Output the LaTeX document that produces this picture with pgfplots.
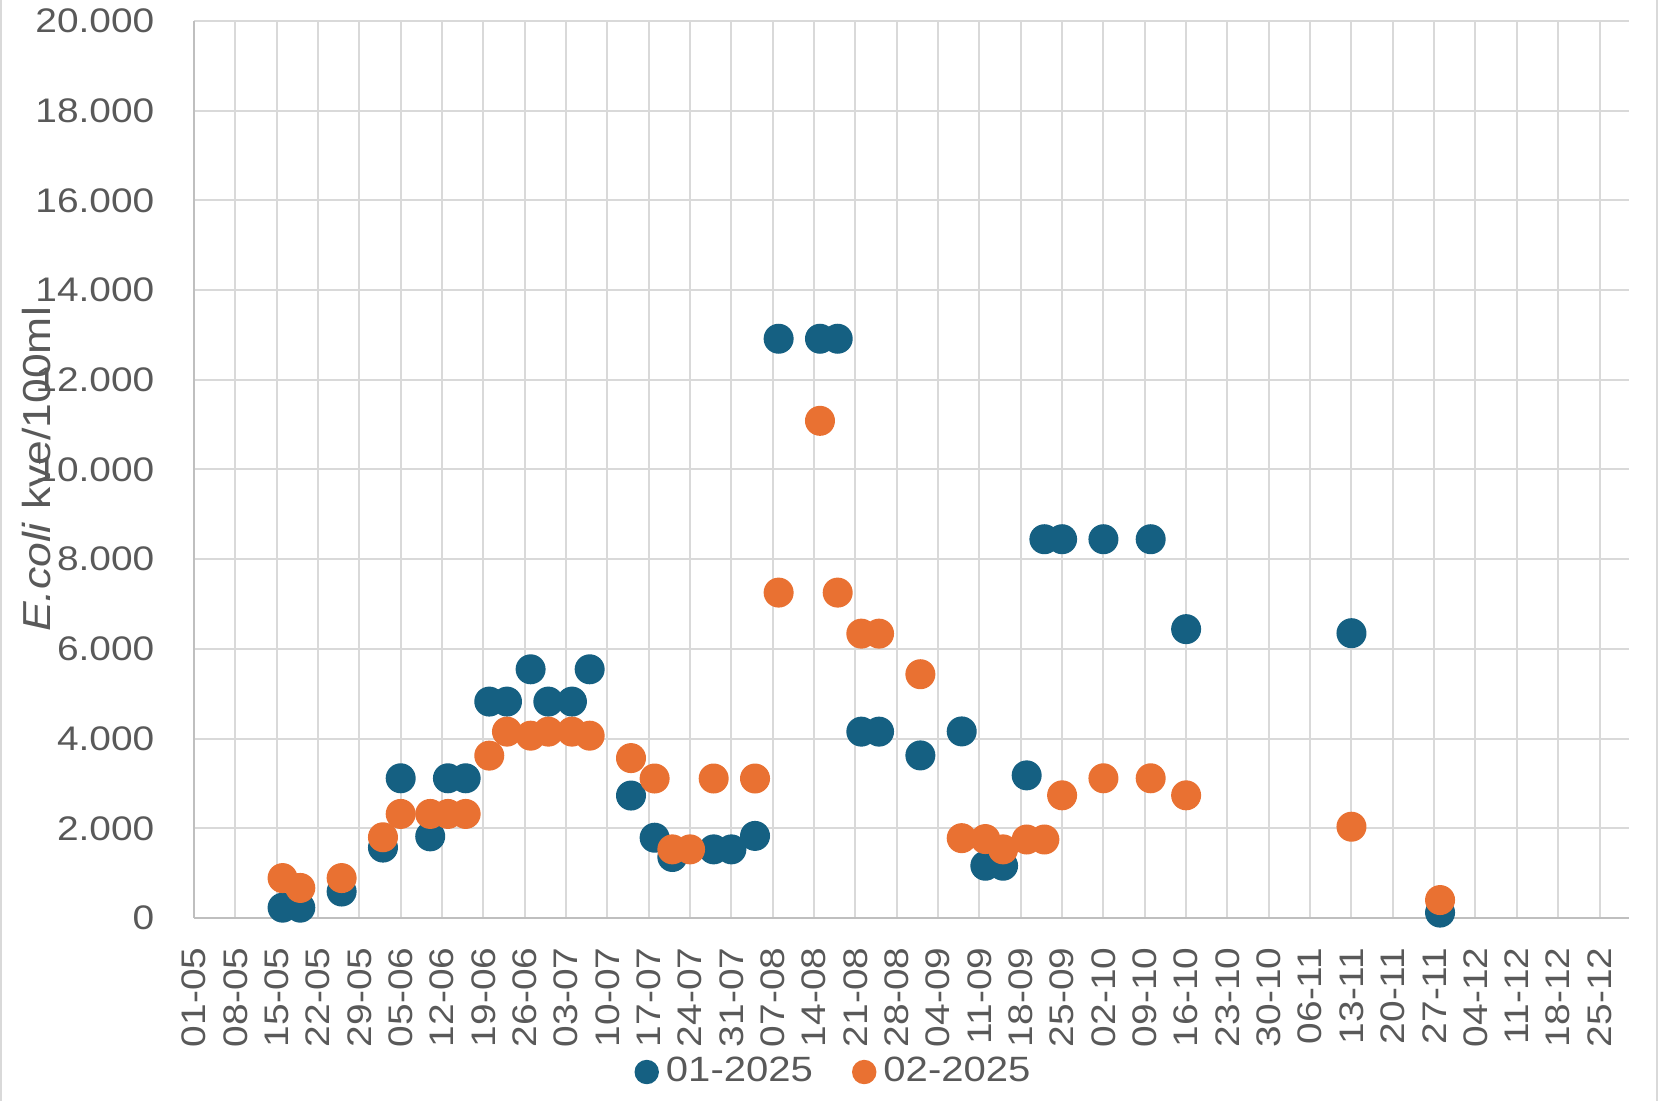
\documentclass[border=0pt]{standalone}
\usepackage{fontspec}
\setmainfont{Liberation Sans}[FakeStretch=1.14]
\usepackage{pgfplots}
\pgfplotsset{compat=1.18}
\definecolor{c1}{HTML}{156082}
\definecolor{c2}{HTML}{E97132}
\definecolor{txt}{HTML}{595959}
\definecolor{gridc}{HTML}{D9D9D9}
\definecolor{axc}{HTML}{BFBFBF}
\begin{document}
\begin{tikzpicture}
\useasboundingbox (0,0) rectangle (165.8mm,110.1mm);
\fill[gridc] (0,0) rectangle (0.25mm,110.1mm);
\fill[gridc] (165.55mm,0) rectangle (165.8mm,110.1mm);
\begin{axis}[
  at={(19.4mm,18.3mm)}, anchor=south west,
  scale only axis, width=143.5mm, height=89.7mm,
  xmin=0, xmax=243, ymin=0, ymax=20000,
  clip=false,
  axis x line=bottom, axis y line=left,
  axis line style={axc, line width=0.25mm, -},
  xtick={0,7,...,238},
  xticklabels={01-05,08-05,15-05,22-05,29-05,05-06,12-06,19-06,26-06,03-07,10-07,17-07,24-07,31-07,07-08,14-08,21-08,28-08,04-09,11-09,18-09,25-09,02-10,09-10,16-10,23-10,30-10,06-11,13-11,20-11,27-11,04-12,11-12,18-12,25-12},
  ytick={0,2000,...,20000},
  major tick length=0pt,
  grid=major,
  major grid style={gridc, line width=0.2mm},
  scaled y ticks=false,
  /pgf/number format/assume math mode=true,
  yticklabel style={/pgf/number format/1000 sep={.}},
  tick label style={font=\fontsize{9.7}{11}\selectfont, text=txt, inner sep=0pt},
  xticklabel style={rotate=90, anchor=east},
  yticklabel style={anchor=east},
  xticklabel shift=2.9mm,
  yticklabel shift=3.9mm,
  ylabel={\textit{E.coli} kve/100ml},
  ylabel style={at={(axis description cs:-0.110,0.5)}, anchor=center, font=\fontsize{11.1}{13}\selectfont, text=txt, inner sep=0pt},
  legend style={at={(axis description cs:0.4474,-0.1717)}, anchor=center, draw=none, fill=none,
    font=\fontsize{10}{12}\selectfont, text=txt,
    /tikz/every even column/.append style={column sep=3.2mm}},
  legend columns=2,
]
\addplot[only marks, mark=*, color=c1, mark size=1.43mm, mark options={draw=none, fill=c1},
  legend image code/.code={\fill[c1] (0,0) circle (1.15mm);}]
  table[row sep=\\]{
  x y\\
  15 230\\ 18 230\\ 25 590\\ 32 1570\\ 35 3115\\ 40 1820\\ 43 3115\\ 46 3115\\
  50 4825\\ 53 4825\\ 57 5545\\ 60 4825\\ 64 4825\\ 67 5545\\ 74 2730\\ 78 1790\\
  81 1360\\ 88 1530\\ 91 1530\\ 95 1830\\ 99 12915\\ 106 12915\\ 109 12915\\
  113 4155\\ 116 4155\\ 123 3625\\ 130 4160\\ 134 1165\\ 137 1165\\ 141 3180\\
  144 8445\\ 147 8445\\ 154 8445\\ 162 8445\\ 168 6440\\ 196 6350\\ 211 120\\
  };
\addlegendentry{01-2025}
\addplot[only marks, mark=*, color=c2, mark size=1.43mm, mark options={draw=none, fill=c2},
  legend image code/.code={\fill[c2] (0,0) circle (1.15mm);}]
  table[row sep=\\]{
  x y\\
  15 890\\ 18 670\\ 25 890\\ 32 1800\\ 35 2320\\ 40 2320\\ 43 2320\\ 46 2320\\
  50 3620\\ 53 4155\\ 57 4065\\ 60 4155\\ 64 4155\\ 67 4065\\ 74 3565\\ 78 3110\\
  81 1530\\ 84 1530\\ 88 3110\\ 95 3110\\ 99 7255\\ 106 11085\\ 109 7255\\
  113 6340\\ 116 6340\\ 123 5435\\ 130 1780\\ 134 1760\\ 137 1530\\ 141 1750\\
  144 1750\\ 147 2735\\ 154 3115\\ 162 3115\\ 168 2735\\ 196 2035\\ 211 400\\
  };
\addlegendentry{02-2025}
\end{axis}
\end{tikzpicture}
\end{document}
